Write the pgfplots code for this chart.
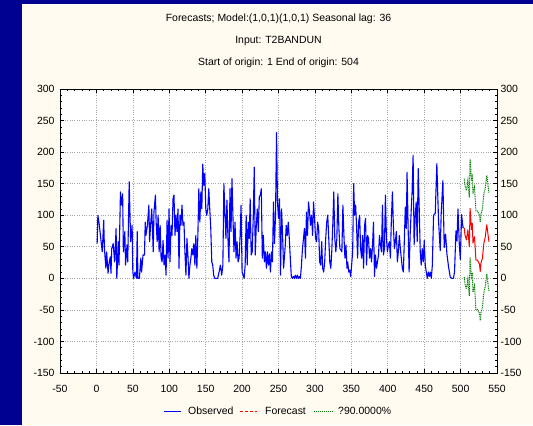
\documentclass[border=0pt]{standalone}
\usepackage{fontspec}
\setmainfont{Liberation Sans}
\usepackage{pgfplots}
\pgfplotsset{compat=1.18}
\definecolor{navyband}{RGB}{0,0,145}
\definecolor{cream}{RGB}{255,251,240}
\definecolor{obsblue}{RGB}{0,0,255}
\definecolor{fcred}{RGB}{255,0,0}
\definecolor{cigreen}{RGB}{0,128,0}
\newcommand{\chartfont}{\fontsize{10.5}{12}\selectfont}

\begin{document}
\begin{tikzpicture}[x=1bp,y=1bp]
\useasboundingbox (0,0) rectangle (533,425);
\fill[navyband] (0,0) rectangle (533,425);
\fill[cream] (22,0) rectangle (533,421);
% three title lines
\node[font=\chartfont] at (278.5,406) {Forecasts; Model:(1,0,1)(1,0,1) Seasonal lag: 36};
\node[font=\chartfont] at (278.5,384) {Input: T2BANDUN};
\node[font=\chartfont] at (278.5,362) {Start of origin: 1 End of origin: 504};

\begin{axis}[
    at={(60bp,52bp)}, anchor=south west,
    scale only axis, width=437bp, height=284bp,
    xmin=-50, xmax=550, ymin=-150, ymax=300,
    xtick={-50,0,...,550}, ytick={-150,-100,...,300},
    minor x tick num=4, minor y tick num=4,
    tick pos=both, tick align=inside,
    major tick length=4bp, minor tick length=2bp,
    tick style={black, line width=0.6bp},
    axis line style={black, line width=0.8bp},
    axis background/.style={fill=white},
    grid=major,
    major grid style={dotted, black!35, line width=0.6bp},
    ticklabel style={font=\chartfont},
    /pgf/number format/assume math mode=true,
    xticklabel style={yshift=-9bp},
    yticklabel style={xshift=-2bp},
]
% observed series
\addplot[obsblue, line width=1.1bp, line join=round] table {
x y
1 55
2 100
4 84
6 63
8 42
10 92
11 47
13 16
14 42
16 8
17 21
19 34
20 8
21 47
23 55
25 26
27 79
28 0
30 58
31 21
33 137
34 116
36 134
37 42
39 74
40 21
42 53
43 26
45 153
47 58
49 84
50 10
51 0
53 10
55 0
56 74
57 0
59 0
61 32
62 10
64 37
66 37
67 89
68 68
70 84
72 116
73 58
75 95
76 110
78 42
79 105
81 132
82 89
83.4 58
84.7 100
86.1 42
87.5 84
88.8 32
90.2 26
91.5 60
92.9 21
94.3 37
95.6 5
97 92
98.4 32
99.7 110
101 26
102.5 84
103.8 68
105.2 126
106.5 132
107.9 68
109.3 100
110.6 74
112 110
113.4 16
114.7 100
116 84
117.5 116
118.8 84
120.2 89
121.5 42
122.9 5
124.3 63
125.6 37
127 0
128.4 21
129.7 32
131 47
132.5 37
133.8 55
135.2 21
136.5 68
137.9 16
139.3 68
140.6 142
142 89
143.4 137
144.7 110
146 181
147.5 147
148.8 166
150.2 110
151.5 100
152.9 110
154.3 142
155.6 110
157 79
158.4 26
159.7 21
161 5
162.4 0
163.8 0
166.5 0
168.4 10
170.2 21
172 5
173.6 21
175 150
176.4 105
177.8 63
179.2 124
180.6 63
182 26
183.4 142
184.8 74
186.1 158
187.5 95
188.9 42
190.3 89
191.7 32
193.1 58
194.5 26
195.9 32
197.3 68
198.6 116
200 10
201.4 5
202.8 0
204.2 21
205.6 100
207 21
208.4 89
209.8 63
211.1 126
212.5 37
213.9 42
215.3 95
216.7 176
218.1 37
219.5 84
220.9 110
222.3 74
223.6 129
225 132
226.4 142
227.8 32
229.2 68
230.6 26
232 42
233.4 16
234.8 42
236.1 21
237.5 39
238.9 10
240.3 42
241.7 26
243.1 121
244.5 55
245.9 100
247.3 231
248.6 121
250 95
251.4 126
252.8 5
254.2 110
255.6 68
257 16
259.3 53
260.6 84
262 68
263.4 89
264.8 63
266.2 32
267.6 3
269 0
270.4 3
271.8 0
273.1 5
274.5 0
275.9 5
277.3 0
278.7 3
280.1 0
281.5 21
282.9 47
284.3 63
285.6 79
287 32
288.4 105
289.8 68
291.2 121
292.6 105
294 84
295.4 100
296.8 68
298.1 121
299.5 95
300.9 63
302.3 58
303.7 89
305.1 79
306.5 26
307.9 21
309.3 58
310.6 16
312 10
313.4 26
314.8 63
316.2 89
317.6 100
319 63
320.4 26
321.8 16
323.1 42
324.5 84
325.9 137
327.3 63
328.7 42
330.1 63
331.5 134
332.9 79
334.3 47
335.6 45
337 42
338.4 116
339.8 68
341.2 32
342.6 53
344 16
345 26
346.4 10
347.7 13
349.1 3
350.4 21
351.8 42
353.2 150
354.5 100
355.9 116
357.3 79
358.6 32
360 89
361.4 100
362.7 47
364.1 32
365.4 68
366.8 16
368.2 84
369.5 95
370.9 21
372.3 68
373.6 63
375 32
376.4 47
377.7 26
379.1 53
380.4 89
381.8 3
383.2 37
384.5 16
385.9 26
387.3 37
388.6 68
390 53
391.4 42
392.7 116
394.1 37
395.4 47
396.8 132
398.2 63
399.5 42
400.9 53
402.3 58
403.6 32
405 95
406.4 137
407.7 84
409.1 47
410.4 58
411.8 74
413.2 26
414.5 42
415.9 68
417.3 47
418.6 32
420 16
421.4 10
422.7 58
424.1 113
425.5 79
426.5 168
427.9 84
429.3 10
430.7 68
432.1 105
433.4 137
434.8 195
436.2 53
437.6 95
439 121
440.4 58
441.8 174
443.2 110
444.6 42
445.9 21
447.3 47
448.7 26
450.1 60
451.5 21
452.9 10
454.3 0
455.7 10
457.1 3
458.4 10
459.8 0
461.2 21
462.9 100
465.2 103
467.4 182
469.7 92
472 44
473.4 103
475.7 155
477.5 49
479.4 70
481.2 39
483.5 18
485.8 2
488.1 0
490.3 0
491.7 11
493.6 75
495 59
496.4 110
498.2 54
499.6 30
501.4 101
503.3 80
504 82
};
% forecast
\addplot[fcred, line width=1bp, line join=round] table {
x y
505 80
506 69
508 61
510 77
512 50
513 111
515 77
516 87
517 56
519 66
520 50
521 29
523 29
524 27
526 22
527 11
528 24
530 32
531 45
532 56
534 66
535 77
536 85
538 66
539 58
};
% 90% limits
\addplot[cigreen, line width=1bp, dash pattern=on 1bp off 0.8bp] table {
x y
505 158
506 147
508 139
510 155
512 128
513 189
515 155
516 165
517 134
519 144
520 128
521 107
523 107
524 105
526 100
527 89
528 102
530 110
531 123
532 134
534 144
535 155
536 163
538 144
539 136
};
\addplot[cigreen, line width=1bp, dash pattern=on 1bp off 0.8bp] table {
x y
505 2
506 -9
508 -17
510 -1
512 -28
513 33
515 -1
516 9
517 -22
519 -12
520 -28
521 -49
523 -49
524 -51
526 -56
527 -67
528 -54
530 -46
531 -33
532 -22
534 -12
535 -1
536 7
538 -12
539 -20
};
\end{axis}

% right-hand tick labels
\begin{axis}[
    at={(60bp,52bp)}, anchor=south west,
    scale only axis, width=437bp, height=284bp,
    xmin=-50, xmax=550, ymin=-150, ymax=300,
    xtick=\empty, ytick={-150,-100,...,300},
    yticklabel pos=right, ytick style={draw=none},
    axis line style={draw=none},
    ticklabel style={font=\chartfont},
    /pgf/number format/assume math mode=true,
]
\end{axis}

% legend row
\draw[obsblue, line width=1.3bp] (164,13.5) -- (181,13.5);
\node[font=\chartfont, anchor=west, inner sep=0pt] at (188,14) {Observed};
\draw[fcred, line width=1.3bp, dash pattern=on 3bp off 2bp] (240,13.5) -- (257,13.5);
\node[font=\chartfont, anchor=west, inner sep=0pt] at (265,14) {Forecast};
\draw[cigreen, line width=1.3bp, dash pattern=on 1bp off 1bp] (314,13.5) -- (333,13.5);
\node[font=\chartfont, anchor=west, inner sep=0pt] at (338,14) {?90.0000\%};
\end{tikzpicture}
\end{document}
